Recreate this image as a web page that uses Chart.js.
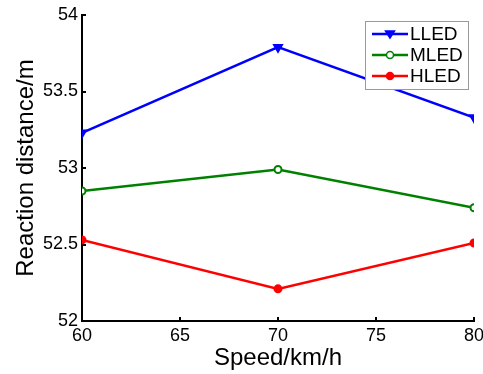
<!DOCTYPE html>
<html>
<head>
<meta charset="utf-8">
<script src="https://cdn.jsdelivr.net/npm/chart.js@4"></script>
<style>
  html, body { margin: 0; padding: 0; background: #fff; }
  #wrap { position: relative; width: 483px; height: 374px; }
</style>
</head>
<body>
<div id="wrap"><canvas id="chart" width="483" height="374"></canvas></div>
<script>
// speeds on the x axis
const speeds = [60, 70, 80];
// reaction distance per lighting level
const lled = [53.23, 53.79, 53.33];
const mled = [52.85, 52.99, 52.74];
const hled = [52.53, 52.21, 52.51];
const seriesNames = ['LLED', 'MLED', 'HLED'];
const xTicks = [60, 65, 70, 75, 80];
const yTicks = [52, 52.5, 53, 53.5, 54];

const toPoints = vals => vals.map((v, i) => ({ x: speeds[i], y: v }));
const FONT = '"Liberation Sans", Arial, sans-serif';

// boxed legend inside the plot, top right
const boxLegend = {
    id: 'boxLegend',
    afterDraw(chart) {
        const c = chart.ctx;
        const x0 = 365, y0 = 21, w = 103, h = 68;
        c.save();
        c.fillStyle = '#fff';
        c.fillRect(x0, y0, w, h);
        c.strokeStyle = '#999';
        c.lineWidth = 1;
        c.strokeRect(x0 + 0.5, y0 + 0.5, w, h);
        chart.data.datasets.forEach((ds, i) => {
            const cy = y0 + 13 + i * 21;
            c.strokeStyle = ds.borderColor;
            c.lineWidth = 2.5;
            c.beginPath();
            c.moveTo(x0 + 7, cy);
            c.lineTo(x0 + 43, cy);
            c.stroke();
            c.fillStyle = ds.pointBackgroundColor;
            c.lineWidth = 1.5;
            const mx = x0 + 25;
            c.beginPath();
            if (ds.pointStyle === 'triangle') {
                c.moveTo(mx - 4.5, cy - 3);
                c.lineTo(mx + 4.5, cy - 3);
                c.lineTo(mx, cy + 4);
                c.closePath();
            } else {
                c.arc(mx, cy, 3.5, 0, Math.PI * 2);
            }
            c.fill();
            c.stroke();
            c.fillStyle = '#000';
            c.font = '19px ' + FONT;
            c.textBaseline = 'middle';
            c.fillText(ds.label, x0 + 45, cy + 1);
        });
        c.restore();
    }
};

// black axis line with short inward ticks (negative tick length)
const axisGrid = { display: true, drawOnChartArea: false, drawTicks: true, tickLength: -4, color: '#000', lineWidth: 2 };

const ctx = document.getElementById('chart').getContext('2d');
new Chart(ctx, {
    type: 'line',
    data: {
        datasets: [
            {
                label: seriesNames[0], data: toPoints(lled),
                borderColor: '#0000ff', backgroundColor: '#0000ff', pointBackgroundColor: '#0000ff',
                pointStyle: 'triangle', rotation: 180, pointRadius: 4.5, pointBorderWidth: 2, borderWidth: 2.5
            },
            {
                label: seriesNames[1], data: toPoints(mled),
                borderColor: '#008000', backgroundColor: '#008000', pointBackgroundColor: '#ffffff',
                pointStyle: 'circle', pointRadius: 3.5, pointBorderWidth: 2, borderWidth: 2.5
            },
            {
                label: seriesNames[2], data: toPoints(hled),
                borderColor: '#ff0000', backgroundColor: '#ff0000', pointBackgroundColor: '#ff0000',
                pointStyle: 'circle', pointRadius: 3.5, pointBorderWidth: 2, borderWidth: 2.5
            }
        ]
    },
    options: {
        responsive: false,
        animation: false,
        layout: { padding: { top: 15, right: 9, left: 0, bottom: 0 } },
        plugins: { legend: { display: false }, tooltip: { enabled: false } },
        scales: {
            x: {
                type: 'linear', min: 60, max: 80,
                afterBuildTicks: s => { s.ticks = xTicks.map(v => ({ value: v })); },
                grid: axisGrid,
                border: { color: '#000', width: 2 },
                ticks: { color: '#000', padding: 8, font: { family: FONT, size: 18 } },
                title: { display: true, text: 'Speed/km/h', color: '#000', padding: { top: 0, bottom: 1 },
                         font: { family: FONT, size: 24 } },
                afterFit: s => { s.height = 53; s.paddingLeft = 0; s.paddingRight = 0; }
            },
            y: {
                min: 52, max: 54,
                afterBuildTicks: s => { s.ticks = yTicks.map(v => ({ value: v })); },
                grid: axisGrid,
                border: { color: '#000', width: 2 },
                ticks: { color: '#000', padding: 8, font: { family: FONT, size: 18 },
                         callback: v => String(v) },
                title: { display: true, text: 'Reaction distance/m', color: '#000', padding: { top: 12, bottom: 0 },
                         font: { family: FONT, size: 24 } },
                afterFit: s => { s.width = 82; s.paddingTop = 0; s.paddingBottom = 0; }
            }
        }
    },
    plugins: [boxLegend]
});
</script>
</body>
</html>
